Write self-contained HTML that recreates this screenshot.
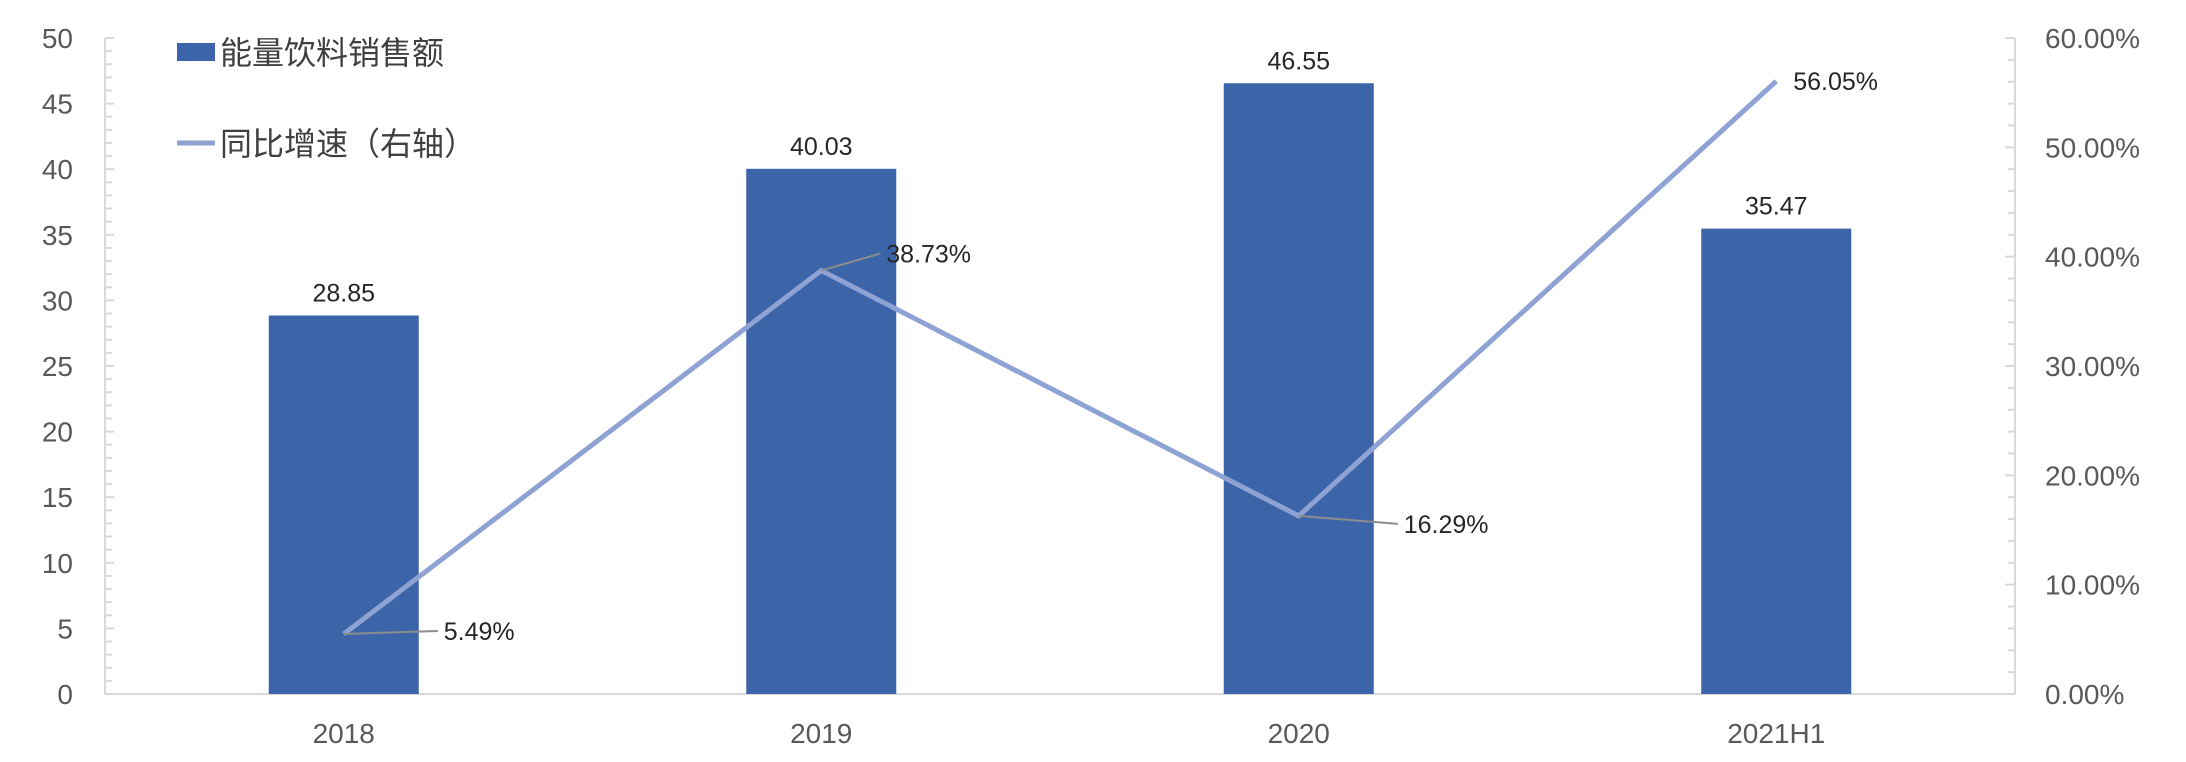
<!DOCTYPE html>
<html><head><meta charset="utf-8">
<style>
html,body{margin:0;padding:0;background:#fff;}
svg{display:block;font-family:"Liberation Sans","Noto Sans CJK SC",sans-serif;}
</style></head>
<body>
<svg id="chart" width="2186" height="762" viewBox="0 0 2186 762" xmlns="http://www.w3.org/2000/svg">
<g id="axes"></g>
<g id="bars"></g>
<g id="line"></g>
<g id="legend">
  <rect x="177" y="43" width="38" height="18" fill="#3C64A9"/>
  <text x="220" y="64" font-size="32" fill="#404040">能量饮料销售额</text>
  <line x1="177" y1="143" x2="215" y2="143" stroke="#8FA2D4" stroke-width="5"/>
  <text x="220" y="155" font-size="32" fill="#404040">同比增速（右轴）</text>
</g>
</svg>
<script>
const categories = ["2018","2019","2020","2021H1"];
const salesValues = [28.85,40.03,46.55,35.47];
const growthValues = [5.49,38.73,16.29,56.05];
const leftTicks = [0,5,10,15,20,25,30,35,40,45,50];
const rightTicks = ["0.00%","10.00%","20.00%","30.00%","40.00%","50.00%","60.00%"];
const salesLabels = ["28.85","40.03","46.55","35.47"];
const growthLabels = ["5.49%","38.73%","16.29%","56.05%"];

const NS="http://www.w3.org/2000/svg";
const X0=105,X1=2015,Y0=694,Y1=38;
const band=(X1-X0)/categories.length;
const xC=i=>X0+band*(i+0.5);
const yL=v=>Y0-(v/50)*(Y0-Y1);
const yR=v=>Y0-(v/60)*(Y0-Y1);
function mk(tag,attrs,parent){const e=document.createElementNS(NS,tag);for(const k in attrs)e.setAttribute(k,attrs[k]);parent.appendChild(e);return e;}

const axes=document.getElementById('axes');
let el;
el=mk('line',{x1:X0,y1:Y1,x2:X0,y2:Y0,stroke:'#D9D9D9','stroke-width':2},axes);


el=mk('line',{x1:X1,y1:Y1,x2:X1,y2:Y0,stroke:'#D9D9D9','stroke-width':2},axes);


el=mk('line',{x1:X0,y1:Y0,x2:X1,y2:Y0,stroke:'#D9D9D9','stroke-width':2},axes);


for(let v=0;v<=50;v++){
  const y=yL(v);
  el=mk('line',{x1:X0,y1:y,x2:X0+(v%5===0?9:7),y2:y,stroke:'#D9D9D9','stroke-width':2},axes);
  
  
}
leftTicks.forEach(v=>{
  el=mk('text',{x:73,y:yL(v)+10,'font-size':28,fill:'#595959','text-anchor':'end'},axes);
  el.textContent=v;
  
  
});
for(let v=0;v<=60;v+=2){
  const y=yR(v);
  el=mk('line',{x1:X1,y1:y,x2:X1-(v%10===0?10:7),y2:y,stroke:'#D9D9D9','stroke-width':2},axes);
  
  
}
rightTicks.forEach((t,i)=>{
  el=mk('text',{x:2045,y:yR(i*10)+10,'font-size':28,fill:'#595959'},axes);
  el.textContent=t;
  
  
});
categories.forEach((c,i)=>{
  el=mk('text',{x:xC(i),y:743,'font-size':28,fill:'#595959','text-anchor':'middle'},axes);
  el.textContent=c;
  
  
});

const bars=document.getElementById('bars');
const BW=150;
salesValues.forEach((v,i)=>{
  el=mk('rect',{x:xC(i)-BW/2,y:yL(v),width:BW,height:Y0-yL(v),fill:'#3C64A9'},bars);
  
  
  el=mk('text',{x:xC(i),y:yL(v)-14,'font-size':25,fill:'#262626','text-anchor':'middle'},bars);
  el.textContent=salesLabels[i];
  
  
});

const line=document.getElementById('line');
const pts=growthValues.map((v,i)=>xC(i)+','+yR(v)).join(' ');
el=mk('polyline',{points:pts,fill:'none',stroke:'#8FA2D4','stroke-width':5,'stroke-linejoin':'round'},line);


const offs=[[100,-3],[65,-17],[105,8],[14,0]];
growthValues.forEach((v,i)=>{
  const px=xC(i),py=yR(v);
  const lx=px+offs[i][0],ly=py+offs[i][1];
  if(i!==3){
    el=mk('line',{x1:px,y1:py,x2:lx-6,y2:ly,stroke:'#8C8C8C','stroke-width':2},line);
    
    
  }
  el=mk('text',{x:lx+(i===3?3:0),y:ly+9,'font-size':25,fill:'#262626'},line);
  el.textContent=growthLabels[i];
  
  
});
</script>
</body></html>
